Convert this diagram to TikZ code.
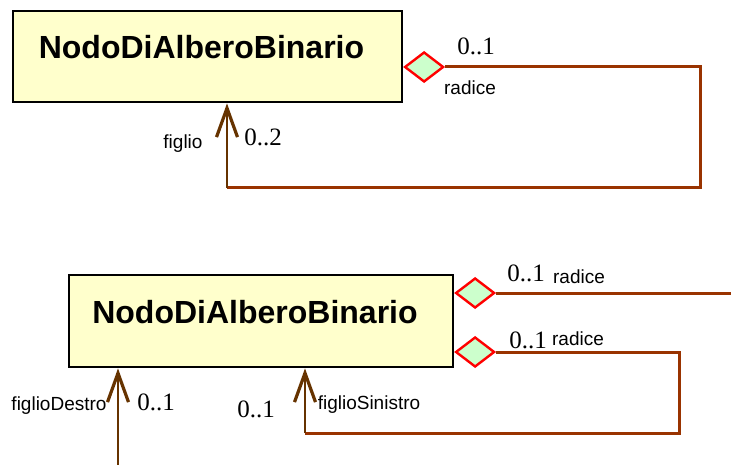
\documentclass[tikz,border=0pt]{standalone}
\usepackage{fontspec}
\setmainfont{Liberation Serif}
\setsansfont{Liberation Sans}
\usetikzlibrary{shapes.geometric,arrows.meta}

\definecolor{classfill}{RGB}{255,255,204}
\definecolor{aggfill}{RGB}{204,255,204}
\definecolor{linkbrown}{RGB}{153,51,0}
\definecolor{arrowbrown}{RGB}{102,51,0}

\begin{document}
\begin{tikzpicture}[
    x=1pt, y=-1pt,
    classbox/.style={rectangle, draw=black, line width=2.8pt, fill=classfill, font=\sffamily\bfseries\fontsize{32}{36}\selectfont, text height=23pt, text depth=19pt, inner sep=0pt},
    agg/.style={diamond, draw=red, line width=2.4pt, fill=aggfill, minimum width=39pt, minimum height=30pt, inner sep=0pt, anchor=west},
    link/.style={draw=linkbrown, line width=3pt},
    nav/.style={draw=arrowbrown, line width=2.4pt, -{Straight Barb[length=29pt, width=21pt, line width=3.2pt]}},
    role/.style={font=\sffamily\fontsize{19}{22}\selectfont, inner sep=0pt},
    mult/.style={font=\fontsize{25}{28}\selectfont, inner sep=0pt}
]
\useasboundingbox (0,0) rectangle (731,465);

% Upper diagram
\node[classbox, minimum width=389pt, minimum height=91pt] (top) at (207.5,56.5) {NodoDiAlberoBinario\kern12pt};
\node[agg] (dtop) at ([yshift=-10.5pt]top.east) {};

\coordinate (tcorner) at (700,188);
\coordinate (tfoot) at (227,188);
\draw[link] (dtop.east) -| (tcorner) -- (tfoot);
\draw[nav] (tfoot) -- (tfoot |- top.south);

\node[mult] (tmult1) at (476,46) {0..1};
\node[role] (troot) at (470,88) {radice};
\node[role] (tchild) at (183,144) {figlio};
\node[mult] (tmult2) at (263,137) {0..2};

% Lower diagram
\node[classbox, minimum width=384pt, minimum height=92pt] (bot) at (261,321) {NodoDiAlberoBinario\kern12pt};
\node[agg] (dbot1) at ([yshift=28pt]bot.east) {};
\node[agg] (dbot2) at ([yshift=-31pt]bot.east) {};

\coordinate (bright) at (731,293);
\draw[link] (dbot1.east) -- (bright);

\coordinate (bcorner) at (679,433);
\coordinate (bfoot) at (305,433);
\draw[link] (dbot2.east) -| (bcorner) -- (bfoot);
\draw[nav] (bfoot) -- (bfoot |- bot.south);

\coordinate (bsrc) at (118,465);
\draw[nav] (bsrc) -- (bsrc |- bot.south);

\node[mult] (bmult1) at (526,273) {0..1};
\node[role] (broot1) at (579,277) {radice};
\node[mult] (bmult2) at (528,340) {0..1};
\node[role] (broot2) at (578,339) {radice};
\node[role] (bright1) at (59,406) {figlioDestro};
\node[mult] (bmult3) at (156,402) {0..1};
\node[mult] (bmult4) at (256,409) {0..1};
\node[role] (bleft1) at (369,405) {figlioSinistro};

\end{tikzpicture}
\end{document}
